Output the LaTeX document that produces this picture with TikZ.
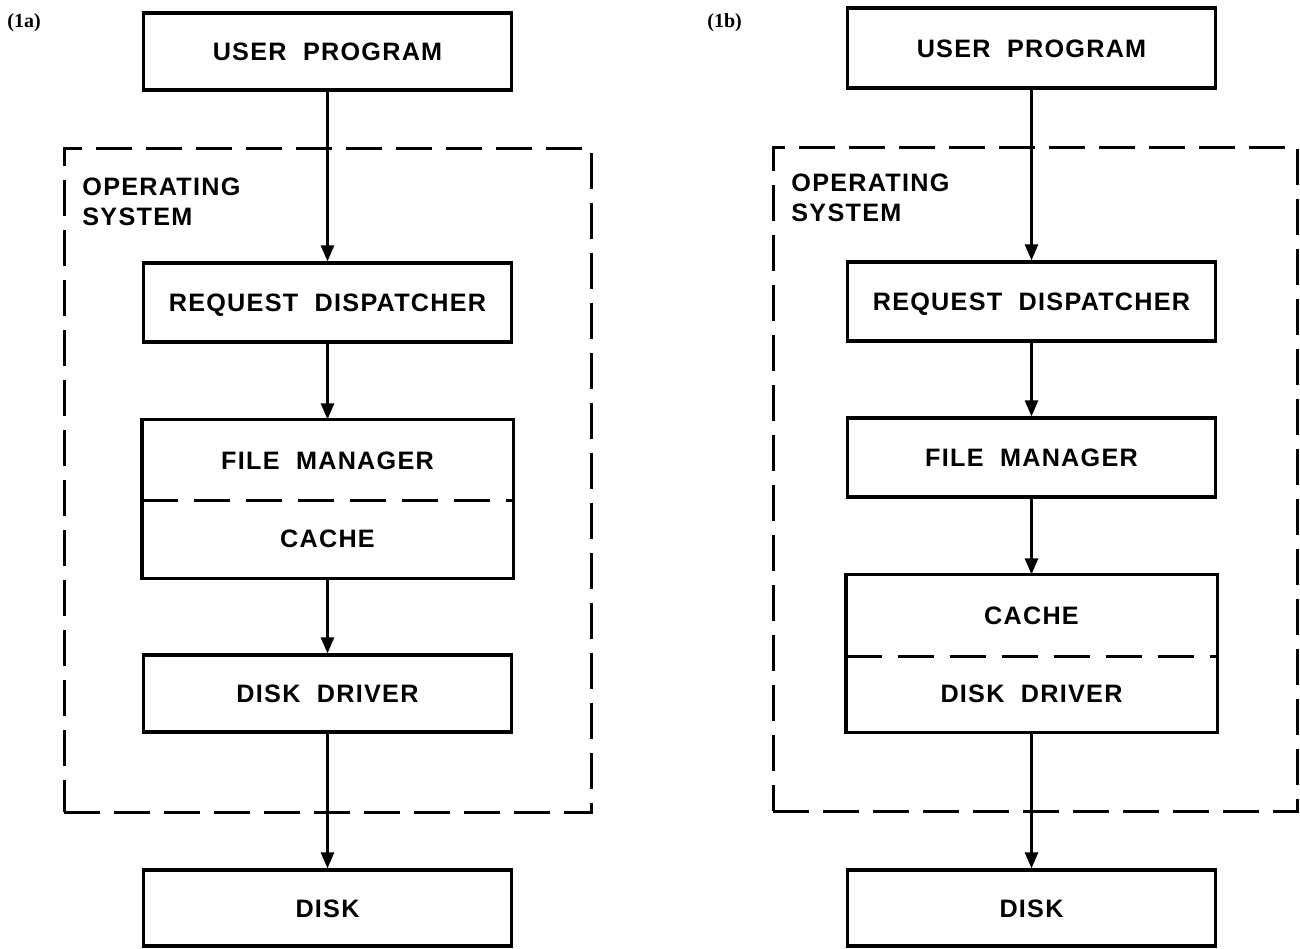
\documentclass[tikz,border=0pt]{standalone}
\usepackage{fontspec}
\setmainfont{Liberation Sans}[LetterSpace=5,WordSpace=2]
\newfontfamily\labfont{Liberation Serif}
\usetikzlibrary{arrows.meta}
\tikzset{
  txt/.style={font=\fontsize{12.6}{15}\selectfont\bfseries},
  blk/.style={txt, draw, line width=1.6pt, minimum width=184pt, inner sep=0pt, text height=9pt, text depth=0pt},
  half/.style={blk, draw=none},
  conn/.style={line width=1.3pt, -{Triangle[length=8pt,width=6.5pt]}},
  osbox/.style={draw, line width=1.5pt, dash pattern=on 18pt off 7pt, inner sep=0pt},
  divider/.style={line width=1.5pt, dash pattern=on 18pt off 8pt},
  oslabel/.style={txt, anchor=north west, inner sep=0pt, align=left},
  figlabel/.style={anchor=north west, inner sep=0pt, font=\labfont\fontsize{10}{12}\selectfont\bfseries}
}
\begin{document}
\begin{tikzpicture}[x=0.5pt,y=-0.5pt]
\useasboundingbox (0,0) rectangle (1300,948);

% ---------- (1a) ----------
\node[figlabel] (la) at (7,13) {(1a)};
\node[osbox, minimum width=263.5pt, minimum height=332pt] (os1) at (327.5,480) {};
\node[oslabel] (ost1) at (82,177) {OPERATING\\SYSTEM};
\node[blk, minimum height=38.5pt] (up1) at (327.5,51.5) {USER PROGRAM};
\node[blk, minimum height=39.5pt] (rd1) at (327.5,302.5) {REQUEST DISPATCHER};
\node[half, minimum height=39pt] (fm1) at (327.5,460) {FILE MANAGER};
\node[half, minimum height=39pt] (ca1) at (327.5,538) {CACHE};
\draw[line width=1.6pt] (fm1.north west) rectangle (ca1.south east);
\draw[divider] (fm1.south west) -- (fm1.south east);
\node[blk, minimum height=38.5pt] (dd1) at (327.5,693.5) {DISK DRIVER};
\node[blk, minimum height=38pt] (dk1) at (327.5,908) {DISK};
\draw[conn] (up1) -- (rd1);
\draw[conn] (rd1) -- (fm1);
\draw[conn] (ca1) -- (dd1);
\draw[conn] (dd1) -- (dk1);

% ---------- (1b) ----------
\node[figlabel] (lb) at (707,13) {(1b)};
\node[osbox, minimum width=262pt, minimum height=332pt] (os2) at (1035,479) {};
\node[oslabel] (ost2) at (791,173) {OPERATING\\SYSTEM};
\node[blk, minimum height=40pt] (up2) at (1031.5,48) {USER PROGRAM};
\node[blk, minimum height=39.5pt] (rd2) at (1031.5,301.5) {REQUEST DISPATCHER};
\node[blk, minimum height=39.5pt] (fm2) at (1031.5,457.5) {FILE MANAGER};
\node[half, minimum height=39.5pt] (ca2) at (1031.5,615.5) {CACHE};
\node[half, minimum height=38pt] (dd2) at (1031.5,693) {DISK DRIVER};
\draw[line width=1.6pt] (ca2.north west) rectangle (dd2.south east);
\draw[divider] (ca2.south west) -- (ca2.south east);
\node[blk, minimum height=38pt] (dk2) at (1031.5,908) {DISK};
\draw[conn] (up2) -- (rd2);
\draw[conn] (rd2) -- (fm2);
\draw[conn] (fm2) -- (ca2);
\draw[conn] (dd2) -- (dk2);
\end{tikzpicture}
\end{document}
